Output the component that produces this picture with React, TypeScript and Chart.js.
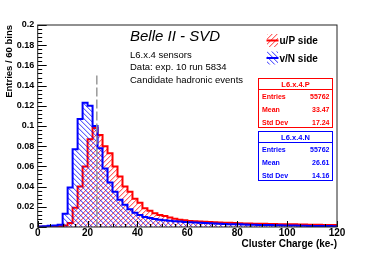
import React, { useEffect, useRef } from "react";
import { Chart, registerables } from "chart.js";

Chart.register(...registerables);

// ---- data (60 bins of 2 ke from 0 to 120 ke) ----
const binWidth = 2;
const xRange = [0, 120];
const yRange = [0, 0.2];

const uPSide = [
  0.0002, 0.0003, 0.0004, 0.0006, 0.0008, 0.0014, 0.004, 0.019, 0.040, 0.060,
  0.087, 0.098, 0.091, 0.080, 0.073, 0.060, 0.050, 0.040, 0.035, 0.028,
  0.024, 0.0185, 0.016, 0.0135, 0.012, 0.011, 0.0095, 0.0082, 0.0072, 0.0066,
  0.0060, 0.0056, 0.0054, 0.0051, 0.0049, 0.0046, 0.0045, 0.0043, 0.0041, 0.0039,
  0.0036, 0.0035, 0.0034, 0.0033, 0.0032, 0.0031, 0.0030, 0.0029, 0.0028, 0.0027,
  0.0026, 0.0026, 0.0025, 0.0024, 0.0023, 0.0022, 0.0022, 0.0021, 0.0020, 0.0020,
];

const vNSide = [
  0.0004, 0.0008, 0.0012, 0.0016, 0.0022, 0.013, 0.039, 0.077, 0.107, 0.123,
  0.120, 0.100, 0.078, 0.058, 0.044, 0.035, 0.027, 0.022, 0.0175, 0.014,
  0.012, 0.010, 0.009, 0.008, 0.0072, 0.0066, 0.0062, 0.0058, 0.0054, 0.0050,
  0.0048, 0.0044, 0.0041, 0.0039, 0.0037, 0.0035, 0.0033, 0.0030, 0.0028, 0.0027,
  0.0026, 0.0025, 0.0023, 0.0022, 0.0021, 0.0020, 0.0019, 0.0018, 0.0017, 0.0016,
  0.0015, 0.0014, 0.0013, 0.0012, 0.0011, 0.0010, 0.0010, 0.0009, 0.0009, 0.0008,
];

const cutLine = { x: 23.7, top: 0.15 };

const seriesNames = ["u/P side", "v/N side"];
const statTitles = ["L6.x.4.P", "L6.x.4.N"];
const statLabels = ["Entries", "Mean", "Std Dev"];
const pStats = ["55762", "33.47", "17.24"];
const nStats = ["55762", "26.61", "14.16"];

const headerTitle = "Belle II - SVD";
const infoLines = ["L6.x.4 sensors", "Data: exp. 10 run 5834", "Candidate hadronic events"];

const xTitle = "Cluster Charge (ke-)";
const yTitle = "Entries / 60 bins";

const RED = "#ff0000";
const BLUE = "#0000ff";
const FONT = "'Liberation Sans', Arial, Helvetica, sans-serif";

function toSteps(values: number[]) {
  const pts: { x: number; y: number }[] = [{ x: xRange[0], y: 0 }];
  values.forEach((v, i) => pts.push({ x: xRange[0] + i * binWidth, y: v }));
  pts.push({ x: xRange[0] + values.length * binWidth, y: values[values.length - 1] });
  pts.push({ x: xRange[0] + values.length * binWidth, y: 0 });
  return pts;
}

function makeHatch(dir: "/" | "\\", r: number, g: number, b: number) {
  const n = 5;
  const c = document.createElement("canvas");
  c.width = n;
  c.height = n;
  const cx = c.getContext("2d")!;
  const img = cx.createImageData(n, n);
  for (let y = 0; y < n; y++) {
    for (let x = 0; x < n; x++) {
      const k = dir === "\\" ? (((x - y) % n) + n) % n : (x + y) % n;
      let a = 0;
      if (k === 0) a = 0.6;
      else if (k === 1) a = 0.22;
      const idx = (y * n + x) * 4;
      img.data[idx] = r;
      img.data[idx + 1] = g;
      img.data[idx + 2] = b;
      img.data[idx + 3] = Math.round(a * 255);
    }
  }
  cx.putImageData(img, 0, 0);
  return cx.createPattern(c, "repeat")!;
}

export default function App() {
  const ref = useRef<HTMLCanvasElement>(null);

  useEffect(() => {
    const canvas = ref.current!;
    const redHatch = makeHatch("/", 255, 0, 0);
    const blueHatch = makeHatch("\\", 0, 0, 255);

    const overlay = {
      id: "rootOverlay",
      afterDatasetsDraw(chart: any) {
        const { ctx, chartArea: a, scales } = chart;
        const xs = scales.x;
        const ys = scales.y;
        ctx.save();

        // dashed cut line
        ctx.strokeStyle = "#9a9a9a";
        ctx.lineWidth = 1.5;
        ctx.setLineDash([9, 3]);
        ctx.beginPath();
        const cx = xs.getPixelForValue(cutLine.x);
        ctx.moveTo(cx, ys.getPixelForValue(cutLine.top));
        ctx.lineTo(cx, ys.getPixelForValue(0));
        ctx.stroke();
        ctx.setLineDash([]);

        // ticks (inward, ROOT style)
        ctx.strokeStyle = "#000";
        ctx.lineWidth = 1;
        ctx.beginPath();
        const yStep = 0.004;
        const nY = Math.round((yRange[1] - yRange[0]) / yStep);
        for (let k = 0; k <= nY; k++) {
          const py = Math.round(ys.getPixelForValue(yRange[0] + k * yStep)) + 0.5;
          const len = k % 5 === 0 ? 9 : 4.5;
          ctx.moveTo(a.left, py);
          ctx.lineTo(a.left + len, py);
        }
        const xStep = 5;
        const nX = Math.round((xRange[1] - xRange[0]) / xStep);
        for (let k = 0; k <= nX; k++) {
          const px = Math.round(xs.getPixelForValue(xRange[0] + k * xStep)) + 0.5;
          const len = k % 4 === 0 ? 6 : 3;
          ctx.moveTo(px, a.bottom);
          ctx.lineTo(px, a.bottom - len);
        }
        ctx.stroke();

        // frame
        ctx.strokeStyle = "#222";
        ctx.lineWidth = 1;
        ctx.strokeRect(a.left, a.top, a.right - a.left, a.bottom - a.top);

        // header texts
        ctx.fillStyle = "#000";
        ctx.textAlign = "left";
        ctx.textBaseline = "alphabetic";
        ctx.font = `italic 15px ${FONT}`;
        ctx.fillText(headerTitle, 130, 40.5);
        ctx.font = `9.5px ${FONT}`;
        ctx.textBaseline = "middle";
        infoLines.forEach((t, i) => ctx.fillText(t, 130, 55 + i * 12.8));

        // legend
        const legendRows = [
          { name: seriesNames[0], color: RED, pat: redHatch, y: 40.5 },
          { name: seriesNames[1], color: BLUE, pat: blueHatch, y: 58 },
        ];
        legendRows.forEach((r) => {
          ctx.fillStyle = r.pat;
          ctx.fillRect(267, r.y - 6.5, 11, 13);
          ctx.strokeStyle = r.color;
          ctx.lineWidth = 2;
          ctx.beginPath();
          ctx.moveTo(266.5, r.y);
          ctx.lineTo(278.5, r.y);
          ctx.stroke();
          ctx.fillStyle = "#000";
          ctx.font = `bold 10px ${FONT}`;
          ctx.textAlign = "left";
          ctx.textBaseline = "middle";
          ctx.fillText(r.name, 279.5, r.y + 1.2);
        });

        // stat boxes
        const boxes = [
          { title: statTitles[0], vals: pStats, color: RED, y0: 78 },
          { title: statTitles[1], vals: nStats, color: BLUE, y0: 131 },
        ];
        boxes.forEach((b) => {
          const x0 = 258, x1 = 333, h = 50;
          ctx.fillStyle = "#fff";
          ctx.fillRect(x0, b.y0, x1 - x0, h);
          ctx.strokeStyle = b.color;
          ctx.lineWidth = 1;
          ctx.strokeRect(x0 + 0.5, b.y0 + 0.5, x1 - x0 - 1, h - 1);
          ctx.beginPath();
          ctx.moveTo(x0, b.y0 + 11.5);
          ctx.lineTo(x1, b.y0 + 11.5);
          ctx.stroke();
          ctx.fillStyle = b.color;
          ctx.font = `bold 7.5px ${FONT}`;
          ctx.textBaseline = "middle";
          ctx.textAlign = "center";
          ctx.fillText(b.title, (x0 + x1) / 2, b.y0 + 6.5);
          ctx.font = `bold 7px ${FONT}`;
          statLabels.forEach((lab, i) => {
            const yy = b.y0 + 19.5 + i * 12.6;
            ctx.textAlign = "left";
            ctx.fillText(lab, 262, yy);
            ctx.textAlign = "right";
            ctx.fillText(b.vals[i], 329.5, yy);
          });
        });

        ctx.restore();
      },
    };

    const chart = new Chart(canvas, {
      type: "line",
      data: {
        datasets: [
          {
            label: seriesNames[0],
            data: toSteps(uPSide),
            borderColor: RED,
            borderWidth: 2,
            backgroundColor: redHatch as any,
            fill: "origin",
            stepped: true,
            pointRadius: 0,
            borderJoinStyle: "miter",
            order: 2,
          },
          {
            label: seriesNames[1],
            data: toSteps(vNSide),
            borderColor: BLUE,
            borderWidth: 2,
            backgroundColor: blueHatch as any,
            fill: "origin",
            stepped: true,
            pointRadius: 0,
            borderJoinStyle: "miter",
            order: 1,
          },
        ],
      },
      options: {
        responsive: false,
        animation: false,
        devicePixelRatio: 1,
        events: [],
        layout: { padding: { top: 25, right: 37, left: 0, bottom: 0 } },
        plugins: { legend: { display: false }, tooltip: { enabled: false } },
        scales: {
          x: {
            type: "linear",
            min: xRange[0],
            max: xRange[1],
            grid: { display: false, drawTicks: false },
            border: { display: false },
            ticks: {
              stepSize: 20,
              maxRotation: 0,
              autoSkip: false,
              padding: 1,
              color: "#000",
              font: { family: FONT, size: 10, weight: "bold", lineHeight: 1 },
            },
            title: {
              display: true,
              text: xTitle,
              align: "end",
              color: "#000",
              padding: { top: 0, bottom: 3 },
              font: { family: FONT, size: 10, weight: "bold", lineHeight: 1.2 },
            },
            afterFit: (s: any) => {
              s.height = 26;
            },
          },
          y: {
            type: "linear",
            min: yRange[0],
            max: yRange[1],
            grid: { display: false, drawTicks: false },
            border: { display: false },
            ticks: {
              stepSize: 0.02,
              padding: 3.5,
              color: "#000",
              font: { family: FONT, size: 9, weight: "bold" },
              callback: (v: any) => {
                const n = Math.round(Number(v) * 1000) / 1000;
                return n === 0 ? "0" : String(n);
              },
            },
            title: {
              display: true,
              text: yTitle,
              align: "end",
              color: "#000",
              padding: { top: 4, bottom: 0 },
              font: { family: FONT, size: 9.5, weight: "bold", lineHeight: 1.2 },
            },
            afterFit: (s: any) => {
              s.width = 37.7;
            },
          },
        },
      },
      plugins: [overlay],
    } as any);

    return () => chart.destroy();
  }, []);

  return (
    <div style={{ position: "absolute", left: 0, top: 0, width: 374, height: 253, background: "#fff" }}>
      <canvas ref={ref} width={374} height={253} style={{ display: "block", width: 374, height: 253 }} />
    </div>
  );
}
